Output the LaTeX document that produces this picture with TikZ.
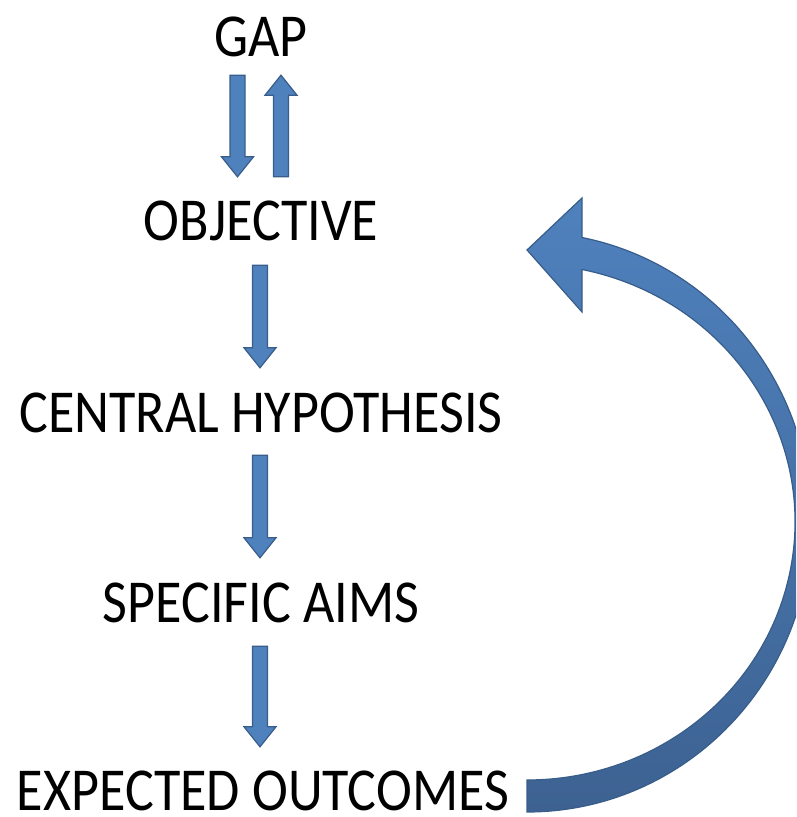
\documentclass[tikz,border=0pt]{standalone}
\usepackage{fontspec}
\setmainfont{Carlito}[FakeStretch=0.886]
\usetikzlibrary{calc}
\definecolor{arrowfill}{HTML}{4F81BD}
\definecolor{arrowdark}{HTML}{3D6292}
\definecolor{arrowedge}{HTML}{385D8A}
\tikzset{
  steplabel/.style={font=\fontsize{61}{70}\selectfont, inner sep=0pt, text height=40pt, text depth=0pt, anchor=base},
  blockarrow/.style={draw=arrowedge, line width=1.2pt, fill=arrowfill,
    to path={let \p1=(\tikztostart), \p2=(\tikztotarget),
      \n2={\y2-20*(\y2-\y1)/abs(\y2-\y1)} in
      (\x1-7.5pt,\y1) -- (\x1+7.5pt,\y1) -- (\x1+7.5pt,\n2) -- (\x1+16pt,\n2)
      -- (\x1,\y2) -- (\x1-16pt,\n2) -- (\x1-7.5pt,\n2) -- cycle}},
  looparrow/.style={top color=arrowfill, bottom color=arrowdark, draw=arrowedge, line width=1.2pt}
}
\begin{document}
\begin{tikzpicture}[x=1pt,y=1pt]
\useasboundingbox (0,0) rectangle (796,817);
\node[steplabel] (gap) at (261,760) {GAP};
\node[steplabel] (obj) at (261,576) {OBJECTIVE};
\node[steplabel] (hyp) at (261,384) {CENTRAL HYPOTHESIS};
\node[steplabel] (aims) at (261,194) {SPECIFIC AIMS};
\node[steplabel] (exp) at (263,6) {EXPECTED OUTCOMES};

\draw[blockarrow] ([xshift=-23.5pt,yshift=-18pt]gap.south) to ([xshift=-23.5pt,yshift=24pt]obj.north);
\draw[blockarrow] ([xshift=20pt,yshift=24pt]obj.north) to ([xshift=20pt,yshift=-18pt]gap.south);
\draw[blockarrow] ([xshift=-1pt,yshift=-24pt]obj.south) to ([xshift=-1pt,yshift=25pt]hyp.north);
\draw[blockarrow] ([xshift=-1pt,yshift=-22pt]hyp.south) to ([xshift=-1pt,yshift=25pt]aims.north);
\draw[blockarrow] ([xshift=-1pt,yshift=-23pt]aims.south) to ([xshift=-3pt,yshift=24pt]exp.north);

\begin{scope}
\clip (0,0) rectangle (796,817);
\coordinate (loopstart) at (527,5);
\shade[looparrow] (loopstart)
  arc[start angle=-90, end angle=78.83, x radius=284, y radius=290]
  -- (582,619) -- (527,567) -- (582,505) -- (582,547.5)
  arc[start angle=78.16, end angle=-90, x radius=268, y radius=258]
  -- cycle;
\end{scope}
\end{tikzpicture}
\end{document}
